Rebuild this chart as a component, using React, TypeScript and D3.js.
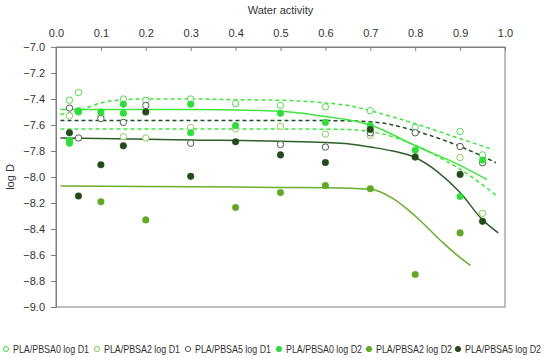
import { useEffect, useRef } from "react";
import * as d3 from "d3";

// measured points [water activity, log D]
const pbsa0D1: [number, number][] = [
  [0.03, -7.41], [0.05, -7.35], [0.15, -7.4], [0.2, -7.41], [0.3, -7.4], [0.4, -7.435],
  [0.5, -7.45], [0.6, -7.46], [0.7, -7.49], [0.8, -7.62], [0.9, -7.65], [0.95, -7.83],
];
const pbsa2D1: [number, number][] = [
  [0.03, -7.53], [0.1, -7.53], [0.15, -7.69], [0.2, -7.7], [0.3, -7.62], [0.4, -7.63],
  [0.5, -7.61], [0.6, -7.67], [0.7, -7.68], [0.9, -7.85], [0.95, -8.28],
];
const pbsa5D1: [number, number][] = [
  [0.03, -7.47], [0.05, -7.7], [0.1, -7.55], [0.15, -7.58], [0.2, -7.45], [0.3, -7.74],
  [0.5, -7.75], [0.6, -7.77], [0.7, -7.66], [0.8, -7.66], [0.9, -7.765], [0.95, -7.89],
];
const pbsa0D2: [number, number][] = [
  [0.03, -7.72], [0.03, -7.74], [0.05, -7.49], [0.05, -7.5], [0.1, -7.5], [0.15, -7.44],
  [0.15, -7.51], [0.3, -7.44], [0.3, -7.66], [0.4, -7.605], [0.5, -7.51], [0.6, -7.58],
  [0.7, -7.605], [0.8, -7.795], [0.9, -8.15], [0.95, -7.87],
];
const pbsa2D2: [number, number][] = [
  [0.1, -8.19], [0.2, -8.33], [0.4, -8.235], [0.5, -8.12], [0.6, -8.065], [0.7, -8.09],
  [0.8, -8.75], [0.9, -8.43],
];
const pbsa5D2: [number, number][] = [
  [0.03, -7.66], [0.05, -8.146], [0.1, -7.906], [0.15, -7.76], [0.2, -7.5], [0.3, -7.995],
  [0.4, -7.729], [0.5, -7.83], [0.6, -7.889], [0.7, -7.635], [0.8, -7.847], [0.9, -7.98],
  [0.95, -8.341],
];

// fitted curves
const fit0D1: [number, number][] = [
  [0.01, -7.52], [0.05, -7.49], [0.1, -7.43], [0.15, -7.405], [0.2, -7.4], [0.3, -7.4],
  [0.4, -7.405], [0.5, -7.41], [0.6, -7.43], [0.65, -7.45], [0.7, -7.49], [0.8, -7.59],
  [0.9, -7.705], [0.973, -7.79],
];
const fit2D1: [number, number][] = [
  [0.01, -7.63], [0.3, -7.63], [0.6, -7.632], [0.65, -7.635], [0.7, -7.65], [0.8, -7.755],
  [0.87, -7.88], [0.9, -7.94], [0.98, -8.14],
];
const fit5D1: [number, number][] = [
  [0.01, -7.565], [0.3, -7.565], [0.6, -7.566], [0.7, -7.575], [0.75, -7.6], [0.8, -7.645],
  [0.9, -7.765], [0.98, -7.89],
];
const fit0D2: [number, number][] = [
  [0.01, -7.48], [0.3, -7.48], [0.5, -7.495], [0.6, -7.535], [0.65, -7.56], [0.7, -7.6],
  [0.8, -7.76], [0.9, -7.91], [0.96, -8.02],
];
const fit2D2: [number, number][] = [
  [0.01, -8.07], [0.3, -8.075], [0.5, -8.08], [0.6, -8.082], [0.7, -8.095], [0.75, -8.165],
  [0.8, -8.3], [0.857, -8.49], [0.9, -8.62], [0.923, -8.68],
];
const fit5D2: [number, number][] = [
  [0.01, -7.7], [0.3, -7.715], [0.5, -7.725], [0.6, -7.735], [0.65, -7.745], [0.7, -7.77],
  [0.75, -7.8], [0.8, -7.85], [0.85, -7.96], [0.9, -8.12], [0.95, -8.33], [0.985, -8.43],
];

const xTicks = [0, 0.1, 0.2, 0.3, 0.4, 0.5, 0.6, 0.7, 0.8, 0.9, 1.0];
const yTicks = [-7.0, -7.2, -7.4, -7.6, -7.8, -8.0, -8.2, -8.4, -8.6, -8.8, -9.0];

const seriesNames = [
  "PLA/PBSA0 log D1", "PLA/PBSA2 log D1", "PLA/PBSA5 log D1",
  "PLA/PBSA0 log D2", "PLA/PBSA2 log D2", "PLA/PBSA5 log D2",
];

const App = () => {
  const ref = useRef<SVGSVGElement>(null);
  const width = 550;
  const height = 358;
  const margin = { top: 47, right: 45, bottom: 51, left: 56 };

  useEffect(() => {
    document.body.style.margin = "0";
    const svg = d3.select(ref.current);
    svg.selectAll("*").remove();

    const font = "'Liberation Sans', Arial, sans-serif";
    const x = d3.scaleLinear().domain([0, 1]).range([margin.left, width - margin.right]);
    const y = d3.scaleLinear().domain([-7, -9]).range([margin.top, height - margin.bottom]);

    const series = [
      { name: seriesNames[0], pts: pbsa0D1, fit: fit0D1, open: true, color: "#4fdc4f", line: "#3ee63e", dash: "4,3" },
      { name: seriesNames[1], pts: pbsa2D1, fit: fit2D1, open: true, color: "#86cf5a", line: "#3ee63e", dash: "4,3" },
      { name: seriesNames[2], pts: pbsa5D1, fit: fit5D1, open: true, color: "#4a5f4a", line: "#1f4f1f", dash: "4,3" },
      { name: seriesNames[3], pts: pbsa0D2, fit: fit0D2, open: false, color: "#2fdc3a", line: "#3ee63e", dash: null },
      { name: seriesNames[4], pts: pbsa2D2, fit: fit2D2, open: false, color: "#62a824", line: "#6aae2e", dash: null },
      { name: seriesNames[5], pts: pbsa5D2, fit: fit5D2, open: false, color: "#244a1c", line: "#2e5e2a", dash: null },
    ];

    // frame
    svg.append("rect")
      .attr("x", x(0)).attr("y", y(-7))
      .attr("width", x(1) - x(0)).attr("height", y(-9) - y(-7))
      .attr("fill", "none").attr("stroke", "#7f7f7f").attr("stroke-width", 1);

    const xAxis = svg.append("g")
      .attr("transform", `translate(0,${y(-7)})`)
      .call(d3.axisTop(x).tickValues(xTicks).tickSize(-4).tickPadding(10).tickFormat(d3.format(".1f")));
    xAxis.select(".domain").attr("stroke", "#7f7f7f");
    xAxis.selectAll(".tick line").attr("stroke", "#7f7f7f");
    xAxis.selectAll("text").attr("font-family", font).attr("font-size", 11).attr("fill", "#333");

    const yAxis = svg.append("g")
      .attr("transform", `translate(${x(0)},0)`)
      .call(d3.axisLeft(y).tickValues(yTicks).tickSize(5).tickPadding(6).tickFormat(d3.format(".1f")));
    yAxis.select(".domain").attr("stroke", "#7f7f7f");
    yAxis.selectAll(".tick line").attr("stroke", "#7f7f7f");
    yAxis.selectAll("text").attr("font-family", font).attr("font-size", 11).attr("fill", "#333");

    svg.append("text")
      .attr("x", (x(0) + x(1)) / 2).attr("y", 14)
      .attr("text-anchor", "middle").attr("font-family", font).attr("font-size", 11).attr("fill", "#333")
      .text("Water activity");

    svg.append("text")
      .attr("transform", `translate(14,${(y(-7) + y(-9)) / 2}) rotate(-90)`)
      .attr("text-anchor", "middle").attr("font-family", font).attr("font-size", 11).attr("fill", "#333")
      .text("log D");

    const line = d3.line<[number, number]>()
      .x(d => x(d[0])).y(d => y(d[1]))
      .curve(d3.curveMonotoneX);

    series.forEach(s => {
      svg.append("path")
        .datum(s.fit)
        .attr("d", line)
        .attr("fill", "none")
        .attr("stroke", s.line)
        .attr("stroke-width", 1.5)
        .attr("stroke-dasharray", s.dash);
    });

    series.forEach(s => {
      svg.append("g").selectAll("circle")
        .data(s.pts)
        .join("circle")
        .attr("cx", d => x(d[0]))
        .attr("cy", d => y(d[1]))
        .attr("r", s.open ? 3.2 : 3.3)
        .attr("fill", s.open ? "white" : s.color)
        .attr("stroke", s.color)
        .attr("stroke-width", s.open ? 1 : 0.5);
    });

    // legend
    const legendX = [6, 97, 188, 279, 369, 458];
    const leg = svg.append("g").attr("transform", `translate(0,349)`);
    series.forEach((s, i) => {
      leg.append("circle")
        .attr("cx", legendX[i]).attr("cy", 0).attr("r", 2.6)
        .attr("fill", s.open ? "white" : s.color)
        .attr("stroke", s.color).attr("stroke-width", 1);
      leg.append("text")
        .attr("x", legendX[i] + 7).attr("y", 3.5)
        .attr("font-family", font).attr("font-size", 10).attr("fill", "#333")
        .attr("textLength", 76).attr("lengthAdjust", "spacingAndGlyphs")
        .text(s.name);
    });
  }, []);

  return <svg ref={ref} width={width} height={height} style={{ display: "block" }} />;
};

export default App;
